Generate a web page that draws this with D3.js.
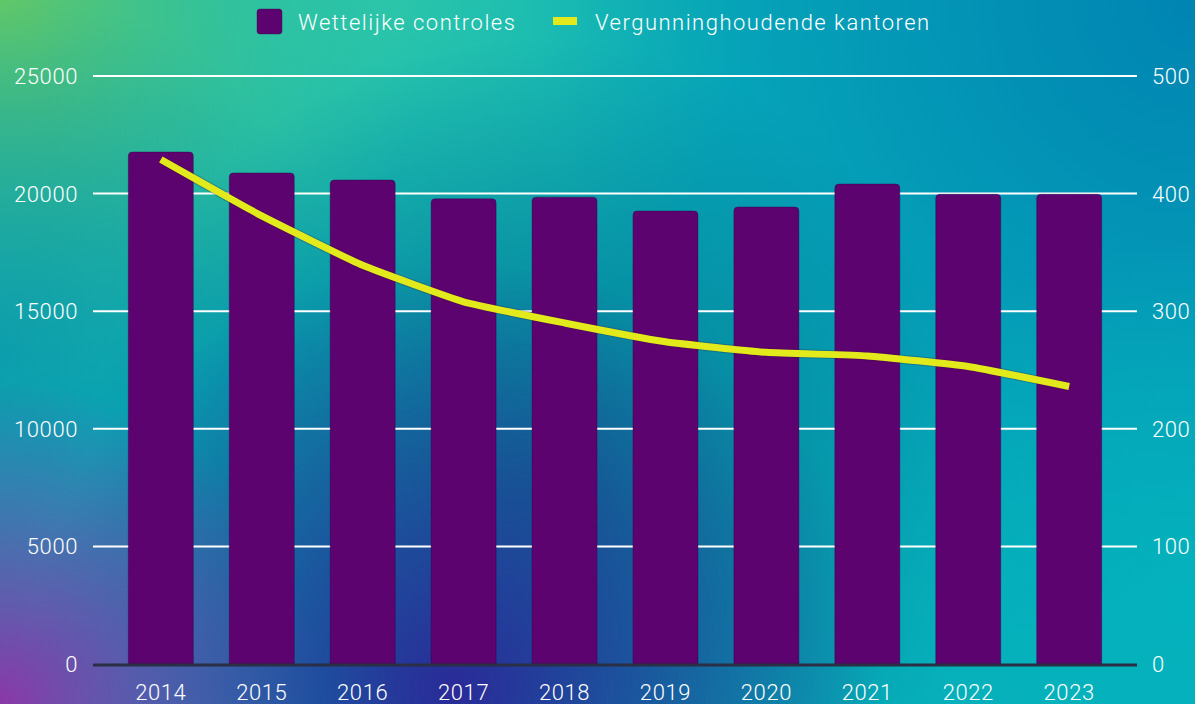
<!DOCTYPE html>
<html lang="nl">
<head>
<meta charset="UTF-8">
<title>Wettelijke controles en vergunninghoudende kantoren</title>
<script src="https://d3js.org/d3.v7.min.js"></script>
<style>
    html, body { margin: 0; padding: 0; background: #06adb9; }
    svg { display: block; font-family: Roboto, "Liberation Sans", sans-serif; font-weight: 300; }
</style>
</head>
<body>
<div id="chart"></div>
<script>
    // data
    var years = ["2014", "2015", "2016", "2017", "2018", "2019", "2020", "2021", "2022", "2023"];
    var controles = [21770, 20880, 20580, 19780, 19850, 19260, 19430, 20410, 19970, 19970];
    var kantoren = [429, 381, 339, 308, 290, 274, 265, 262, 253, 236];
    var leftTicks = [0, 5000, 10000, 15000, 20000, 25000];
    var rightTicks = [0, 100, 200, 300, 400, 500];
    var seriesNames = ["Wettelijke controles", "Vergunninghoudende kantoren"];

    var W = 1195, H = 704;
    var plot = { left: 93, right: 1137, top: 76, bottom: 664 };
    var barColor = "#5c036f";
    var lineColor = "#e2ea1c";

    var svg = d3.select("#chart").append("svg")
        .attr("width", W)
        .attr("height", H);

    // background mesh-ish gradient built from a few radial blobs
    var defs = svg.append("defs");
    var blobs = [
        { id: "gTL", cx: 0, cy: 0, r: 0.36, color: "#62c868", op: 1 },
        { id: "gTM", cx: 0.33, cy: 0, r: 0.3, color: "#33caa6", op: 0.8 },
        { id: "gTR", cx: 1, cy: 0, r: 0.55, color: "#0084b2", op: 1 },
        { id: "gML", cx: 0, cy: 0.5, r: 0.3, color: "#0a98ac", op: 0.8 },
        { id: "gMid", cx: 0.45, cy: 0.7, r: 0.38, color: "#056f8c", op: 0.9 },
        { id: "gBM", cx: 0.38, cy: 0.98, r: 0.36, color: "#2a2a98", op: 1 },
        { id: "gBL", cx: 0, cy: 1, r: 0.27, color: "#8a37a8", op: 1 },
        { id: "gBR", cx: 1, cy: 0.85, r: 0.3, color: "#03b2bc", op: 0.9 }
    ];

    svg.append("rect")
        .attr("width", W)
        .attr("height", H)
        .attr("fill", "#07b0bb");

    blobs.forEach(function(b) {
        var g = defs.append("radialGradient")
            .attr("id", b.id)
            .attr("gradientUnits", "userSpaceOnUse")
            .attr("cx", b.cx * W)
            .attr("cy", b.cy * H)
            .attr("r", b.r * W);
        g.append("stop").attr("offset", "0%").attr("stop-color", b.color).attr("stop-opacity", b.op);
        g.append("stop").attr("offset", "100%").attr("stop-color", b.color).attr("stop-opacity", 0);
        svg.append("rect")
            .attr("width", W)
            .attr("height", H)
            .attr("fill", "url(#" + b.id + ")");
    });

    // scales
    var x = d3.scaleBand()
        .domain(years)
        .range([plot.left, plot.right])
        .paddingInner(0.356)
        .paddingOuter(0.35);

    var yLeft = d3.scaleLinear()
        .domain([0, 25000])
        .range([plot.bottom, plot.top]);

    var yRight = d3.scaleLinear()
        .domain([0, 500])
        .range([plot.bottom, plot.top]);

    // gridlines
    svg.append("g")
        .selectAll("line")
        .data(leftTicks.filter(function(d) { return d > 0; }))
        .enter()
        .append("line")
        .attr("x1", plot.left)
        .attr("x2", plot.right)
        .attr("y1", function(d) { return yLeft(d); })
        .attr("y2", function(d) { return yLeft(d); })
        .attr("stroke", "#ffffff")
        .attr("stroke-width", 2);

    // left axis labels
    svg.append("g")
        .selectAll("text")
        .data(leftTicks)
        .enter()
        .append("text")
        .attr("x", 78)
        .attr("y", function(d) { return yLeft(d); })
        .attr("dy", "0.36em")
        .attr("text-anchor", "end")
        .attr("fill", "#ffffff")
        .style("font-size", "22px")
        .style("letter-spacing", "0.6px")
        .text(function(d) { return d; });

    // right axis labels
    svg.append("g")
        .selectAll("text")
        .data(rightTicks)
        .enter()
        .append("text")
        .attr("x", 1152)
        .attr("y", function(d) { return yRight(d); })
        .attr("dy", "0.36em")
        .attr("text-anchor", "start")
        .attr("fill", "#ffffff")
        .style("font-size", "22px")
        .style("letter-spacing", "0.6px")
        .text(function(d) { return d; });

    // bars with rounded tops
    function barPath(d, i) {
        var x0 = x(years[i]), w = x.bandwidth();
        var y0 = yLeft(d), y1 = yLeft(0), r = 4;
        return "M" + x0 + "," + y1 +
            "V" + (y0 + r) +
            "Q" + x0 + "," + y0 + " " + (x0 + r) + "," + y0 +
            "H" + (x0 + w - r) +
            "Q" + (x0 + w) + "," + y0 + " " + (x0 + w) + "," + (y0 + r) +
            "V" + y1 + "Z";
    }

    svg.append("g")
        .selectAll("path")
        .data(controles)
        .enter()
        .append("path")
        .attr("d", barPath)
        .attr("fill", barColor)
        .attr("stroke", "rgba(40,0,60,0.35)")
        .attr("stroke-width", 1);

    // baseline
    svg.append("line")
        .attr("x1", plot.left)
        .attr("x2", plot.right)
        .attr("y1", yLeft(0) + 1)
        .attr("y2", yLeft(0) + 1)
        .attr("stroke", "#2b2f45")
        .attr("stroke-width", 3);

    // x labels
    svg.append("g")
        .selectAll("text")
        .data(years)
        .enter()
        .append("text")
        .attr("x", function(d) { return x(d) + x.bandwidth() / 2; })
        .attr("y", 700)
        .attr("text-anchor", "middle")
        .attr("fill", "#ffffff")
        .style("font-size", "22px")
        .style("letter-spacing", "0.6px")
        .text(function(d) { return d; });

    // line
    var line = d3.line()
        .x(function(d, i) { return x(years[i]) + x.bandwidth() / 2; })
        .y(function(d) { return yRight(d); })
        .curve(d3.curveCardinal.tension(0.6));

    svg.append("path")
        .datum(kantoren)
        .attr("d", line)
        .attr("fill", "none")
        .attr("stroke", "rgba(60,20,40,0.25)")
        .attr("stroke-width", 9);

    svg.append("path")
        .datum(kantoren)
        .attr("d", line)
        .attr("fill", "none")
        .attr("stroke", lineColor)
        .attr("stroke-width", 7);

    // legend
    var legend = svg.append("g");
    legend.append("rect")
        .attr("x", 257).attr("y", 9)
        .attr("width", 25).attr("height", 25)
        .attr("rx", 3)
        .attr("fill", barColor)
        .attr("stroke", "rgba(40,0,60,0.35)");
    legend.append("text")
        .attr("x", 298).attr("y", 30)
        .attr("fill", "#ffffff")
        .style("font-size", "22px")
        .style("letter-spacing", "1.5px")
        .text(seriesNames[0]);
    legend.append("rect")
        .attr("x", 553).attr("y", 17)
        .attr("width", 24).attr("height", 8)
        .attr("fill", lineColor);
    legend.append("text")
        .attr("x", 595).attr("y", 30)
        .attr("fill", "#ffffff")
        .style("font-size", "22px")
        .style("letter-spacing", "1.5px")
        .text(seriesNames[1]);
</script>
</body>
</html>
